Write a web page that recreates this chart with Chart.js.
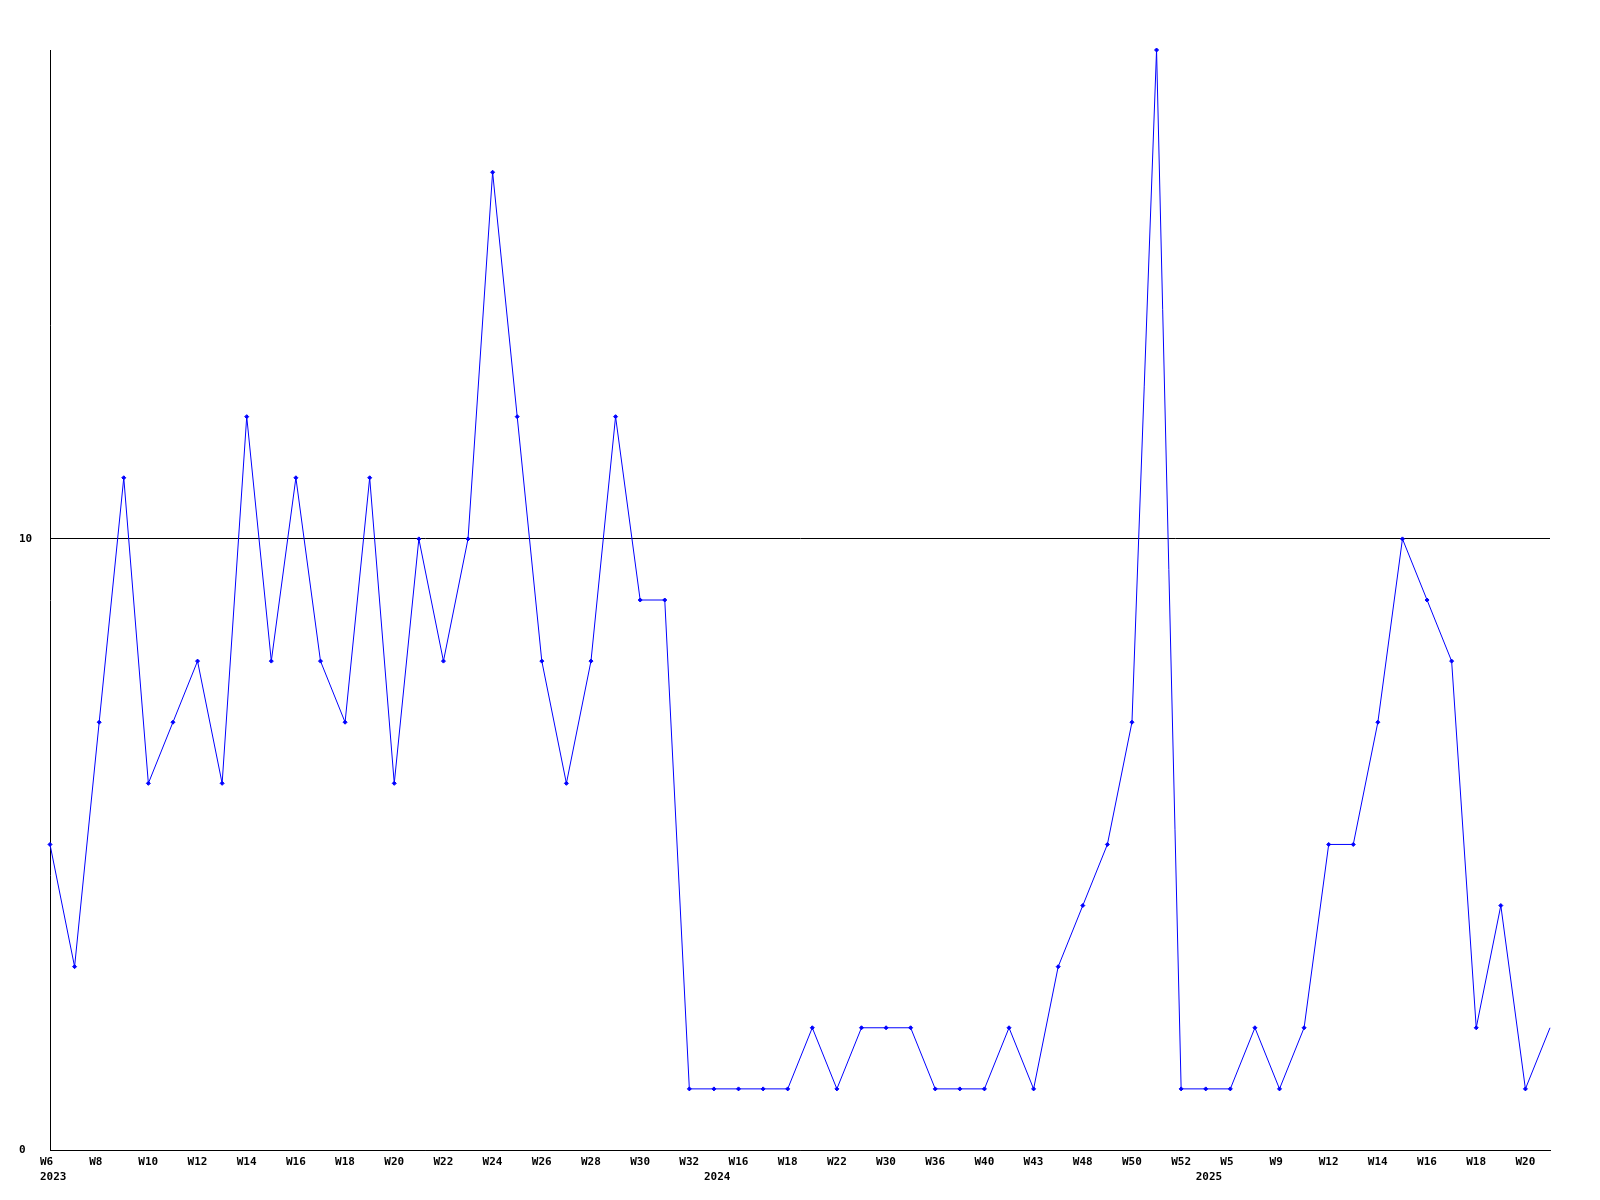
<!DOCTYPE html>
<html lang="en">
  <head>
    <title>Weekly count</title>
    <meta charset="UTF-8" />
    <script src="https://cdn.jsdelivr.net/npm/chart.js@4/dist/chart.umd.min.js"></script>
    <style>
      html, body { margin: 0; padding: 0; background: #fff; }
      #wrap { width: 1600px; height: 1200px; }
    </style>
  </head>
  <body>
    <div id="wrap"><canvas id="grafico" width="1600" height="1200"></canvas></div>
    <script>
      // week of each point (labels are shown on every second one)
      const weeks = [
        'W6', 'W7', 'W8', 'W9', 'W10', 'W11', 'W12', 'W13', 'W14', 'W15',
        'W16', 'W17', 'W18', 'W19', 'W20', 'W21', 'W22', 'W23', 'W24', 'W25',
        'W26', 'W27', 'W28', 'W29', 'W30', 'W31', 'W32',
        'W15', 'W16', 'W17', 'W18', 'W20', 'W22', 'W27', 'W30', 'W33', 'W36',
        'W38', 'W40', 'W42', 'W43', 'W46', 'W48', 'W49', 'W50', 'W51', 'W52',
        'W3', 'W5', 'W7', 'W9', 'W10', 'W12', 'W13', 'W14', 'W15', 'W16',
        'W17', 'W18', 'W19', 'W20', 'W21',
      ];
      // year shown under the first point of each year
      const years = { 0: '2023', 27: '2024', 47: '2025' };
      const values = [
        5, 3, 7, 11, 6, 7, 8, 6, 12, 8,
        11, 8, 7, 11, 6, 10, 8, 10, 16, 12,
        8, 6, 8, 12, 9, 9, 1,
        1, 1, 1, 1, 2, 1, 2, 2, 2, 1,
        1, 1, 2, 1, 3, 4, 5, 7, 18, 1,
        1, 1, 2, 1, 2, 5, 5, 7, 10, 9,
        8, 2, 4, 1, 2,
      ];
      const yTicks = [0, 10];

      const fonte = { family: 'DejaVu Sans Mono', size: 11, weight: 'bold', lineHeight: 1.35 };

      const canvas = document.getElementById('grafico');
      const chart = new Chart(canvas, {
        type: 'line',
        data: {
          labels: weeks,
          datasets: [
            {
              data: values,
              borderColor: '#0000ff',
              backgroundColor: '#0000ff',
              borderWidth: 1,
              pointStyle: 'rectRot',
              pointRadius: values.map((v, i) => (i === values.length - 1 ? 0 : 2)),
              pointBorderWidth: 1,
              tension: 0,
              clip: false,
            },
          ],
        },
        options: {
          responsive: false,
          animation: false,
          layout: { padding: { left: 19, top: 50, right: 50, bottom: 0 } },
          plugins: { legend: { display: false }, tooltip: { enabled: false } },
          scales: {
            x: {
              offset: false,
              grid: { display: false, drawTicks: false },
              border: { color: '#000', width: 1 },
              afterFit: (s) => { s.height = 50; },
              ticks: {
                autoSkip: false,
                maxRotation: 0,
                minRotation: 0,
                align: 'start',
                labelOffset: -10,
                padding: 5,
                color: '#000',
                font: fonte,
                callback: function (val, i) {
                  const w = i % 2 === 0 ? weeks[i] : '';
                  if (years[i]) return [w, years[i]];
                  return w;
                },
              },
            },
            y: {
              min: 0,
              max: 18,
              afterBuildTicks: (s) => { s.ticks = yTicks.map((v) => ({ value: v })); },
              afterFit: (s) => { s.width = 31; },
              grid: { color: '#000', lineWidth: 1, drawTicks: false },
              border: { color: '#000', width: 1 },
              ticks: {
                crossAlign: 'far',
                padding: 0,
                color: '#000',
                font: fonte,
              },
            },
          },
        },
      });
    </script>
  </body>
</html>
